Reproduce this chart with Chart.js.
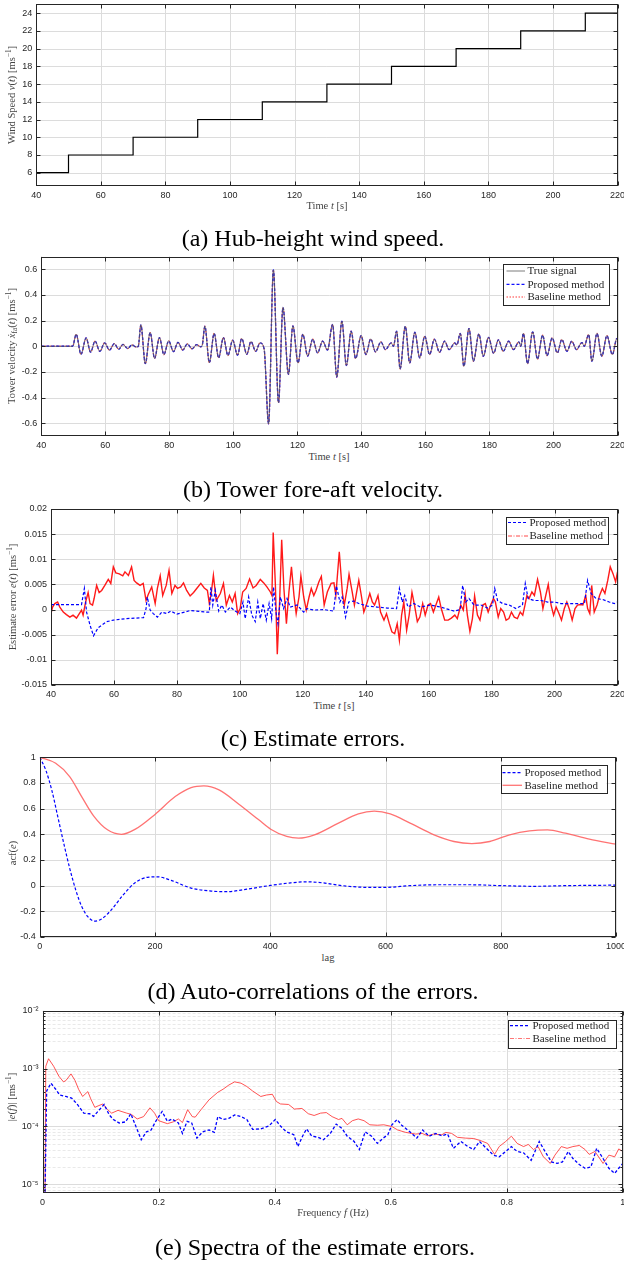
<!DOCTYPE html>
<html>
<head>
<meta charset="utf-8">
<script src="https://cdn.jsdelivr.net/npm/chart.js@4/dist/chart.umd.min.js"></script>
<style>
  body { margin: 0; background: #fff; }
  #page { position: relative; width: 624px; height: 1262px; overflow: hidden; }
  canvas { position: absolute; left: 0; }
  .t { position: absolute; white-space: nowrap; font-family: "Liberation Serif", serif; line-height: 1; transform: translate(-50%, -50%); }
  .ax { font-size: 10.5px; color: #444; }
  .yl { transform: translate(-50%, -50%) rotate(-90deg); }
  .cap { font-size: 24px; color: #000; }
  sup { font-size: 70%; vertical-align: 0.45em; line-height: 0; }
  sub { font-size: 70%; vertical-align: -0.25em; line-height: 0; }
</style>
</head>
<body>
<div id="page">
  <canvas id="cA" width="624" height="200" style="top:0px"></canvas>
  <canvas id="cB" width="624" height="200" style="top:250px"></canvas>
  <canvas id="cC" width="624" height="199" style="top:500px"></canvas>
  <canvas id="cD" width="624" height="201" style="top:750px"></canvas>
  <canvas id="cE" width="624" height="204" style="top:1003px"></canvas>

  <div class="t ax yl" style="left:12px;top:95px">Wind Speed <i>v</i>(<i>t</i>) [ms<sup>−1</sup>]</div>
  <div class="t ax" style="left:327px;top:206px">Time <i>t</i> [s]</div>
  <div class="t cap" style="left:313px;top:238px">(a) Hub-height wind speed.</div>

  <div class="t ax yl" style="left:12px;top:346px">Tower velocity <i>ẋ</i><sub>fa</sub>(<i>t</i>) [ms<sup>−1</sup>]</div>
  <div class="t ax" style="left:329px;top:457px">Time <i>t</i> [s]</div>
  <div class="t cap" style="left:313px;top:489px">(b) Tower fore-aft velocity.</div>

  <div class="t ax yl" style="left:12.5px;top:597px">Estimate error <i>e</i>(<i>t</i>) [ms<sup>−1</sup>]</div>
  <div class="t ax" style="left:334px;top:706px">Time <i>t</i> [s]</div>
  <div class="t cap" style="left:313px;top:738px">(c) Estimate errors.</div>

  <div class="t ax yl" style="left:12.5px;top:853px">acf(<i>e</i>)</div>
  <div class="t ax" style="left:328px;top:958px">lag</div>
  <div class="t cap" style="left:313px;top:991px">(d) Auto-correlations of the errors.</div>

  <div class="t ax yl" style="left:12px;top:1097px">|<i>e</i>(<i>f</i>)| [ms<sup>−1</sup>]</div>
  <div class="t ax" style="left:333px;top:1213px">Frequency <i>f</i> (Hz)</div>
  <div class="t cap" style="left:315px;top:1247px">(e) Spectra of the estimate errors.</div>
</div>

<script>
// ---------- data ----------

// (a) hub-height wind speed steps
const windTime = [40, 50, 70, 90, 110, 130, 150, 170, 190, 210, 220];
const windSpeed = [6, 8, 10, 12, 14, 16, 18, 20, 22, 24, 24];

// tick positions
const timeTicks = [40, 60, 80, 100, 120, 140, 160, 180, 200, 220];
const windTicks = [6, 8, 10, 12, 14, 16, 18, 20, 22, 24];
const velTicks = [-0.6, -0.4, -0.2, 0, 0.2, 0.4, 0.6];
const errTicks = [-0.015, -0.01, -0.005, 0, 0.005, 0.01, 0.015, 0.02];
const lagTicks = [0, 200, 400, 600, 800, 1000];
const acfTicks = [-0.4, -0.2, 0, 0.2, 0.4, 0.6, 0.8, 1];
const freqTicks = [0, 0.2, 0.4, 0.6, 0.8, 1];
const specTicks = [1e-5, 1e-4, 1e-3, 1e-2];
const specTickLabels = ['10⁻⁵', '10⁻⁴', '10⁻³', '10⁻²'];

// (b) tower fore-aft velocity, peaks and troughs [t, v] (all three curves coincide)
const towerVelocity = [
  [40, 0], [49.8, 0], [50.9, 0.094], [52.4, -0.063], [54.0, 0.065], [55.4, -0.046], [56.8, 0.04],
  [58.3, -0.04], [59.8, 0.027], [61.3, -0.03], [62.8, 0.02], [64.2, -0.023], [65.5, 0.015],
  [67.0, -0.018], [68.3, 0.01], [69.7, -0.006], [70.3, 0.0], [71.1, 0.167], [72.5, -0.136],
  [74.0, 0.107], [75.4, -0.095], [76.9, 0.068], [78.3, -0.065], [79.8, 0.042], [81.3, -0.042],
  [82.7, 0.03], [84.2, -0.03], [85.6, 0.018], [87.1, -0.02], [88.5, 0.012], [89.8, -0.004],
  [90.3, 0.01], [91.1, 0.157], [92.5, -0.128], [94.0, 0.1], [95.4, -0.09], [96.9, 0.068],
  [98.3, -0.072], [99.8, 0.047], [101.3, -0.07], [102.6, 0.06], [104.2, -0.063], [105.5, 0.037],
  [107.0, -0.04], [108.3, 0.026], [109.6, -0.02], [111.0, -0.605], [112.5, 0.595], [114.1, -0.44],
  [115.5, 0.303], [117.2, -0.219], [118.6, 0.159], [120.2, -0.13], [121.7, 0.094], [123.2, -0.076],
  [124.8, 0.055], [126.3, -0.052], [127.9, 0.04], [129.4, -0.03], [131.0, 0.17], [132.3, -0.24],
  [133.9, 0.195], [135.3, -0.15], [136.8, 0.117], [138.2, -0.096], [139.9, 0.083], [141.4, -0.065],
  [142.9, 0.057], [144.4, -0.044], [146.1, 0.034], [147.5, -0.026], [149.3, 0.026], [150.0, 0.0],
  [151.0, 0.117], [152.1, -0.177], [153.7, 0.156], [155.1, -0.13], [156.7, 0.109], [158.2, -0.09],
  [159.8, 0.078], [161.3, -0.065], [162.8, 0.055], [164.4, -0.047], [166.0, 0.039], [167.4, -0.026],
  [169.2, 0.026], [169.8, 0.01], [170.9, 0.1], [172.0, -0.156], [173.6, 0.138], [175.0, -0.117],
  [176.7, 0.096], [178.1, -0.078], [179.7, 0.07], [181.3, -0.055], [182.8, 0.049], [184.3, -0.039],
  [186.0, 0.039], [187.5, -0.026], [189.2, 0.034], [189.8, 0.0], [190.6, 0.1], [191.9, -0.135],
  [193.5, 0.112], [195.0, -0.1], [196.6, 0.086], [198.0, -0.073], [199.6, 0.065], [201.2, -0.052],
  [202.6, 0.052], [204.2, -0.039], [205.7, 0.039], [207.2, -0.026], [208.9, 0.029], [209.6, 0.0],
  [211.0, 0.091], [212.0, -0.117], [213.6, 0.1], [215.1, -0.078], [216.7, 0.083], [218.4, -0.065],
  [219.8, 0.06], [220, 0.055]
];

// (c) estimate errors [t, e]
const proposedError = [
  [40, 0.001], [49.7, 0.001], [50.6, 0.0042], [51.3, -0.0005], [52.4, -0.0031], [53.5, -0.0052],
  [55.0, -0.0036], [57.7, -0.0024], [59.8, -0.0021], [64.0, -0.0018], [69.4, -0.0016], [70.2, 0.0002],
  [70.6, 0.0025], [71.5, -0.0001], [72.5, -0.0008], [73.8, -0.0015], [75.2, -0.0005], [76.8, -0.0008],
  [78.0, -0.0003], [80.0, -0.0009], [84.2, -0.0002], [89.5, -0.0005], [90.3, -0.0005], [90.8, 0.0045],
  [91.4, 0.0009], [92.2, 0.0038], [93.3, -0.0003], [94.3, 0.0009], [95.4, -0.0005], [97.0, 0.0005],
  [98.5, -0.0003], [100.0, -0.0008], [101.0, 0.0015], [101.7, -0.0018], [102.8, 0.0025], [103.8, -0.0011],
  [104.9, -0.0024], [105.7, 0.0015], [106.5, -0.0018], [107.4, 0.0012], [108.4, -0.0021], [109.3, 0.0012],
  [110.1, -0.0018], [110.7, 0.0045], [111.6, -0.0011], [112.1, -0.0028], [112.9, 0.0025], [113.9, 0.0002],
  [115.0, 0.0022], [116.0, 0.0005], [118.2, 0.0009], [120.3, -0.0005], [121.3, 0.0002], [123.5, -0.0001],
  [126.7, 0.0], [129.8, -0.0003], [130.7, 0.0047], [131.8, 0.0015], [132.5, 0.0025], [133.6, -0.0015],
  [134.6, 0.0015], [136.2, 0.0017], [137.8, 0.0012], [140.5, 0.0007], [143.6, 0.0005], [146.8, 0.0003],
  [149.8, 0.0002], [150.7, 0.0042], [151.6, 0.0015], [152.4, 0.0028], [153.4, 0.0005], [155.3, 0.0012],
  [157.4, 0.0005], [160.6, 0.0009], [163.8, 0.0005], [168.1, -0.0003], [170.0, 0.0], [170.8, 0.0048],
  [171.8, 0.0015], [172.8, 0.0022], [174.4, 0.0009], [176.6, 0.0009], [178.7, 0.0003], [180.3, 0.0009],
  [181.0, 0.0042], [181.9, 0.0018], [183.5, 0.0012], [185.6, 0.0009], [187.7, 0.0002], [189.8, 0.0009],
  [190.7, 0.0052], [191.6, 0.0022], [193.5, 0.0018], [195.7, 0.0018], [197.8, 0.0015], [199.9, 0.0015],
  [202.0, 0.0012], [205.2, 0.0012], [209.5, 0.0012], [210.5, 0.0058], [211.6, 0.0032], [213.2, 0.0022],
  [215.3, 0.002], [217.4, 0.0015], [219.0, 0.0012], [220, 0.0015]
];
const baselineError = [
  [40, -0.0008], [40.5, 0.0005], [41.2, 0.0012], [42.1, 0.0015], [42.8, 0.0005], [43.9, -0.0005],
  [44.9, -0.001], [46.0, -0.0015], [47.0, -0.0011], [48.1, -0.0017], [49.0, -0.0008], [49.7, -0.0001],
  [50.2, -0.0011], [51.0, 0.0015], [51.8, 0.0034], [52.4, 0.0012], [53.2, 0.0009], [53.7, 0.0022],
  [54.5, 0.0048], [55.3, 0.0034], [56.1, 0.0038], [57.1, 0.0048], [58.2, 0.006], [59.0, 0.0052],
  [59.8, 0.0085], [60.6, 0.0073], [61.7, 0.0071], [62.8, 0.0067], [63.5, 0.0075], [64.6, 0.0068],
  [65.6, 0.0085], [66.4, 0.0058], [67.2, 0.0053], [68.3, 0.0048], [69.3, 0.0052], [70.2, 0.0018],
  [70.9, 0.003], [72.0, 0.0045], [73.1, 0.0012], [73.8, 0.0042], [74.7, 0.0067], [75.5, 0.0028],
  [76.6, 0.0048], [77.5, 0.0078], [78.4, 0.0032], [79.4, 0.0048], [80.2, 0.0042], [81.2, 0.0045],
  [82.1, 0.0053], [83.1, 0.0038], [84.2, 0.0027], [85.3, 0.0034], [86.3, 0.0042], [87.6, 0.0052],
  [88.7, 0.0043], [89.7, 0.0038], [90.3, 0.0012], [90.9, 0.0032], [91.6, 0.0068], [92.5, 0.0018],
  [93.8, 0.0032], [94.8, 0.0052], [95.7, 0.0009], [96.7, 0.0028], [97.6, 0.0015], [98.5, 0.0032],
  [99.3, -0.0008], [100.1, 0.0002], [100.9, 0.0035], [102.0, 0.0042], [103.1, 0.0061], [104.2, 0.0043],
  [105.2, 0.0048], [106.5, 0.006], [107.6, 0.0053], [108.6, 0.0045], [109.7, 0.0035], [110.2, 0.0028],
  [110.6, 0.0153], [111.3, 0.0048], [111.9, -0.0089], [112.6, 0.0009], [113.3, 0.0139], [114.0, 0.0042],
  [114.8, -0.0028], [115.6, 0.0035], [116.4, 0.0085], [117.2, 0.0028], [117.9, -0.0008], [118.8, 0.0025],
  [119.4, 0.0067], [120.3, 0.0025], [121.1, -0.0001], [122.0, 0.0025], [122.7, 0.0042], [123.5, 0.0028],
  [124.2, 0.0038], [125.1, 0.0055], [125.9, 0.0066], [126.8, 0.0009], [127.8, 0.0035], [129.0, 0.0052],
  [129.9, 0.0053], [130.5, 0.0028], [131.6, 0.0115], [132.6, 0.0032], [133.2, 0.0009], [134.1, 0.0042],
  [134.7, 0.007], [135.7, 0.0035], [136.4, 0.0009], [137.1, 0.0034], [137.8, 0.0058], [138.6, 0.0028],
  [139.4, -0.0005], [140.5, 0.0015], [141.3, 0.0032], [142.1, 0.0015], [142.8, 0.0009], [143.9, 0.0028],
  [144.7, -0.0005], [145.8, -0.0021], [146.6, -0.0008], [147.5, -0.0028], [148.3, -0.0044], [149.2, -0.0048],
  [150.0, -0.0028], [150.7, -0.0061], [151.4, -0.0011], [152.1, 0.0015], [153.0, -0.0041], [153.8, -0.0011],
  [154.7, 0.0034], [155.5, 0.0009], [156.4, -0.0024], [157.2, -0.0015], [158.1, 0.0012], [158.9, -0.0011],
  [159.8, 0.0009], [160.6, 0.0012], [161.5, -0.0005], [162.3, 0.0009], [163.2, 0.0025], [164.0, 0.0002],
  [165.1, -0.0021], [166.2, -0.0021], [167.2, -0.0017], [168.3, -0.0011], [169.1, -0.0018], [170.2, 0.0009],
  [171.0, -0.0001], [171.6, 0.003], [172.3, -0.0011], [173.1, -0.0043], [173.9, -0.0018], [174.6, 0.0027],
  [175.5, -0.0011], [176.3, -0.0021], [177.2, 0.0009], [178.0, 0.0012], [178.9, -0.0005], [179.7, 0.0009],
  [180.6, 0.0022], [181.2, 0.0015], [182.1, -0.0015], [182.9, 0.0002], [183.8, -0.0005], [184.6, -0.0021],
  [185.5, -0.0018], [186.3, -0.0005], [187.2, -0.0015], [188.2, -0.0018], [189.1, -0.0005], [189.9, -0.0011],
  [190.6, 0.0009], [191.2, 0.0028], [191.9, 0.0022], [192.8, 0.0035], [193.6, 0.0028], [194.6, 0.006],
  [195.5, 0.0035], [196.3, 0.0002], [197.2, 0.0028], [198.0, 0.005], [198.9, 0.0009], [199.7, -0.0011],
  [200.5, 0.0005], [201.4, -0.0008], [202.2, -0.0021], [203.1, 0.0002], [203.9, 0.0015], [204.8, -0.0001],
  [205.6, -0.0021], [206.5, 0.0002], [207.3, 0.0009], [208.2, 0.001], [209.0, 0.0009], [209.9, 0.0028],
  [210.5, 0.0002], [211.2, -0.0008], [211.8, 0.0048], [212.6, -0.0005], [213.5, 0.0009], [214.3, 0.0028],
  [215.2, 0.0042], [216.0, 0.0032], [216.9, 0.0058], [217.7, 0.0085], [218.6, 0.0071], [219.4, 0.0055],
  [220, 0.0075]
];

// (d) auto-correlations [lag, acf]
const proposedAcf = [
  [0, 1.0], [10.4, 0.9], [20.7, 0.746], [31.1, 0.54], [41.5, 0.331], [51.8, 0.137], [62.2, -0.031],
  [72.6, -0.161], [82.9, -0.239], [94.7, -0.276], [107.1, -0.26], [124.4, -0.187], [145.1, -0.07],
  [165.9, 0.025], [186.6, 0.065], [203.9, 0.069], [228.1, 0.041], [262.6, -0.019], [297.2, -0.042],
  [324.8, -0.047], [359.4, -0.027], [400.8, 0.002], [435.4, 0.022], [463, 0.03], [490.7, 0.022],
  [525.2, 0.0], [566.7, -0.013], [601.2, -0.013], [642.7, 0.0], [691.1, 0.007], [746.4, 0.007],
  [801.7, 0.0], [857, -0.005], [912.2, 0.0], [1000, 0.004]
];
const baselineAcf = [
  [0, 1.0], [27.6, 0.953], [51.8, 0.85], [72.6, 0.694], [93.3, 0.544], [117.5, 0.435], [141.7, 0.4],
  [165.9, 0.44], [200.4, 0.557], [235, 0.694], [262.6, 0.764], [284.7, 0.777], [311, 0.746],
  [345.5, 0.635], [380, 0.513], [400.8, 0.44], [428.5, 0.383], [449.2, 0.37], [476.8, 0.396],
  [518.3, 0.487], [552.9, 0.559], [580.5, 0.58], [608.2, 0.559], [642.7, 0.487], [684.2, 0.396],
  [718.7, 0.344], [749.8, 0.328], [780.9, 0.344], [815.5, 0.396], [850, 0.427], [881.1, 0.435],
  [912.2, 0.409], [953.7, 0.362], [1000, 0.323]
];

// (e) error spectra [f, |e(f)|]
const proposedSpectrum = [
  [0.004, 5e-6], [0.007, 4.1e-4], [0.0144, 5.6e-4], [0.0226, 4.4e-4], [0.0295, 3.5e-4], [0.04, 3.3e-4],
  [0.05, 3.1e-4], [0.06, 2.4e-4], [0.071, 1.7e-4], [0.081, 1.66e-4], [0.088, 1.5e-4], [0.098, 1.95e-4],
  [0.106, 2.4e-4], [0.115, 1.58e-4], [0.122, 1.32e-4], [0.132, 1.15e-4], [0.143, 1.2e-4], [0.152, 1.66e-4],
  [0.16, 1.05e-4], [0.17, 5.9e-5], [0.179, 8.1e-5], [0.187, 8.7e-5], [0.195, 1.23e-4], [0.206, 1.82e-4],
  [0.215, 1.23e-4], [0.223, 1.35e-4], [0.234, 1.15e-4], [0.241, 7.6e-5], [0.249, 1.23e-4], [0.257, 1.15e-4],
  [0.266, 6.3e-5], [0.276, 8.1e-5], [0.287, 8.7e-5], [0.296, 7.9e-5], [0.302, 1.48e-4], [0.311, 1.32e-4],
  [0.321, 1.38e-4], [0.331, 1.58e-4], [0.342, 1.48e-4], [0.352, 1.32e-4], [0.362, 8.9e-5], [0.376, 9.1e-5],
  [0.39, 1.02e-4], [0.401, 1.32e-4], [0.41, 1.02e-4], [0.42, 8.1e-5], [0.433, 7.2e-5], [0.44, 4.5e-5],
  [0.448, 6.8e-5], [0.455, 9.1e-5], [0.464, 6.8e-5], [0.475, 6.5e-5], [0.484, 5.9e-5], [0.496, 7.6e-5],
  [0.506, 1.1e-4], [0.516, 9.3e-5], [0.525, 6.8e-5], [0.537, 5.5e-5], [0.546, 4.0e-5], [0.556, 8.1e-5],
  [0.567, 6.8e-5], [0.577, 5.1e-5], [0.587, 6.3e-5], [0.595, 7.2e-5], [0.602, 1.07e-4], [0.611, 1.32e-4],
  [0.619, 1.05e-4], [0.633, 8.1e-5], [0.645, 6.3e-5], [0.655, 8.7e-5], [0.666, 6.8e-5], [0.678, 7.6e-5],
  [0.688, 6.9e-5], [0.698, 7.4e-5], [0.708, 4.2e-5], [0.721, 5.5e-5], [0.733, 4.5e-5], [0.743, 4.0e-5],
  [0.753, 5.5e-5], [0.767, 4.0e-5], [0.777, 3.2e-5], [0.787, 3.0e-5], [0.798, 3.7e-5], [0.808, 4.5e-5],
  [0.818, 3.7e-5], [0.829, 3.5e-5], [0.842, 2.6e-5], [0.856, 5.5e-5], [0.866, 3.7e-5], [0.877, 2.45e-5],
  [0.887, 2.3e-5], [0.896, 2.45e-5], [0.906, 3.7e-5], [0.914, 2.8e-5], [0.925, 2.2e-5], [0.935, 1.9e-5],
  [0.945, 2.0e-5], [0.955, 4.2e-5], [0.966, 2.8e-5], [0.976, 1.9e-5], [0.986, 1.55e-5], [0.993, 1.9e-5],
  [1.0, 2.3e-5]
];
const baselineSpectrum = [
  [0.004, 5e-6], [0.0055, 1.1e-3], [0.0103, 1.48e-3], [0.019, 1.1e-3], [0.028, 7.4e-4], [0.036, 5.9e-4],
  [0.04, 6.2e-4], [0.049, 8.1e-4], [0.056, 6.2e-4], [0.062, 4.4e-4], [0.069, 3.3e-4], [0.078, 4.0e-4],
  [0.083, 3.0e-4], [0.09, 2.14e-4], [0.097, 2.3e-4], [0.104, 2.45e-4], [0.112, 1.95e-4], [0.119, 1.7e-4],
  [0.13, 1.9e-4], [0.145, 1.7e-4], [0.153, 1.62e-4], [0.163, 1.35e-4], [0.174, 1.48e-4], [0.185, 2.1e-4],
  [0.193, 1.7e-4], [0.2, 1.26e-4], [0.215, 1.12e-4], [0.225, 1.2e-4], [0.234, 1.35e-4], [0.241, 1.17e-4],
  [0.25, 1.95e-4], [0.258, 1.48e-4], [0.263, 1.45e-4], [0.273, 1.95e-4], [0.287, 2.9e-4], [0.302, 3.9e-4],
  [0.311, 4.4e-4], [0.321, 5.2e-4], [0.331, 5.9e-4], [0.342, 5.6e-4], [0.352, 4.9e-4], [0.362, 4.1e-4],
  [0.376, 3.3e-4], [0.386, 3.5e-4], [0.396, 3.6e-4], [0.403, 2.7e-4], [0.41, 2.45e-4], [0.424, 2.4e-4],
  [0.434, 2.0e-4], [0.447, 2.05e-4], [0.458, 1.66e-4], [0.468, 1.55e-4], [0.479, 1.7e-4], [0.489, 1.74e-4],
  [0.499, 1.48e-4], [0.51, 1.32e-4], [0.516, 1.38e-4], [0.525, 1.07e-4], [0.534, 1.26e-4], [0.544, 1.35e-4],
  [0.554, 1.26e-4], [0.564, 1.07e-4], [0.577, 1.05e-4], [0.588, 1.07e-4], [0.602, 1.0e-4], [0.612, 8.7e-5],
  [0.626, 7.9e-5], [0.643, 7.4e-5], [0.654, 7.6e-5], [0.664, 6.9e-5], [0.674, 7.4e-5], [0.688, 7.2e-5],
  [0.695, 7.9e-5], [0.705, 7.6e-5], [0.715, 6.5e-5], [0.729, 6.3e-5], [0.743, 6.2e-5], [0.757, 5.6e-5],
  [0.767, 5.1e-5], [0.779, 3.3e-5], [0.787, 4.5e-5], [0.798, 5.5e-5], [0.808, 6.8e-5], [0.818, 5.1e-5],
  [0.829, 4.5e-5], [0.837, 4.9e-5], [0.846, 4.0e-5], [0.854, 4.5e-5], [0.863, 3.0e-5], [0.875, 2.3e-5],
  [0.883, 3.2e-5], [0.894, 4.5e-5], [0.904, 4.2e-5], [0.914, 4.5e-5], [0.925, 4.7e-5], [0.935, 4.0e-5],
  [0.942, 3.3e-5], [0.952, 3.7e-5], [0.966, 2.3e-5], [0.976, 3.2e-5], [0.986, 3.0e-5], [0.993, 4.1e-5],
  [1.0, 3.7e-5]
];

// ---------- styling helpers ----------

Chart.defaults.font.family = '"Liberation Sans", Arial, sans-serif';
Chart.defaults.font.size = 9;
Chart.defaults.color = '#262626';

// minor decade lines for the log axis (grid only)
const specMinor = [];
for (let e = -6; e <= -3; e++) {
  for (let m = 2; m <= 9; m++) {
    const v = m * Math.pow(10, e);
    if (v > 7.1e-6 && v < 1e-2) specMinor.push(v);
  }
}

// per-canvas decoration: canvas top on the page, legend box in page coordinates
const decor = {
  cA: { top: 0 },
  cB: { top: 250, legend: { x: 503, y: 264, w: 106, h: 41, rows: [271, 284.3, 297], s0: 506.5, s1: 525, tx: 527.5 } },
  cC: { top: 500, legend: { x: 505.5, y: 516.5, w: 101.5, h: 27, rows: [522.5, 536], s0: 508, s1: 528, tx: 529.5 } },
  cD: { top: 750, legend: { x: 500.5, y: 765, w: 106, h: 28, rows: [772.7, 785.3], s0: 502.5, s1: 522, tx: 524.5 } },
  cE: { top: 1003, minorY: specMinor, legend: { x: 508, y: 1019.5, w: 108, h: 27.5, rows: [1025.7, 1038.5], s0: 510, s1: 530, tx: 532.5 } }
};

function hLine(ctx, a, py) {
  ctx.beginPath(); ctx.moveTo(a.left, py); ctx.lineTo(a.right, py); ctx.stroke();
}
function vLine(ctx, a, px) {
  ctx.beginPath(); ctx.moveTo(px, a.top); ctx.lineTo(px, a.bottom); ctx.stroke();
}

// MATLAB-like axes: grid behind, box + inward ticks + boxed legend on top
const matlabAxes = {
  id: 'matlabAxes',
  beforeDatasetsDraw(chart) {
    const d = decor[chart.canvas.id];
    const { ctx, chartArea: a } = chart;
    const sx = chart.scales.x, sy = chart.scales.y;
    ctx.save();
    ctx.lineWidth = 1;
    if (d.minorY) {
      ctx.strokeStyle = '#e9e9e9';
      ctx.setLineDash([3, 2]);
      d.minorY.forEach(v => hLine(ctx, a, Math.round(sy.getPixelForValue(v)) + 0.5));
      ctx.setLineDash([]);
    }
    ctx.strokeStyle = '#dcdcdc';
    sx.ticks.forEach(t => vLine(ctx, a, Math.round(sx.getPixelForValue(t.value)) + 0.5));
    sy.ticks.forEach(t => hLine(ctx, a, Math.round(sy.getPixelForValue(t.value)) + 0.5));
    ctx.restore();
  },
  afterDatasetsDraw(chart) {
    const d = decor[chart.canvas.id];
    const { ctx, chartArea: a } = chart;
    const sx = chart.scales.x, sy = chart.scales.y;
    const L = Math.round(a.left) + 0.5, R = Math.round(a.right) - 0.5;
    const T = Math.round(a.top) + 0.5, B = Math.round(a.bottom) - 0.5;
    ctx.save();
    ctx.strokeStyle = '#262626';
    ctx.lineWidth = 1;
    ctx.strokeRect(L, T, R - L, B - T);
    ctx.beginPath();
    sx.ticks.forEach(t => {
      const px = Math.round(sx.getPixelForValue(t.value)) + 0.5;
      ctx.moveTo(px, B); ctx.lineTo(px, B - 4);
      ctx.moveTo(px, T); ctx.lineTo(px, T + 4);
    });
    sy.ticks.forEach(t => {
      const py = Math.round(sy.getPixelForValue(t.value)) + 0.5;
      ctx.moveTo(L, py); ctx.lineTo(L + 4, py);
      ctx.moveTo(R, py); ctx.lineTo(R - 4, py);
    });
    if (d.minorY) {
      d.minorY.forEach(v => {
        const py = Math.round(sy.getPixelForValue(v)) + 0.5;
        ctx.moveTo(L, py); ctx.lineTo(L + 2, py);
        ctx.moveTo(R, py); ctx.lineTo(R - 2, py);
      });
    }
    ctx.stroke();

    if (d.legend) {
      const g = d.legend, oy = d.top;
      ctx.fillStyle = '#fff';
      ctx.fillRect(g.x, g.y - oy, g.w, g.h);
      ctx.strokeStyle = '#262626';
      ctx.lineWidth = 1;
      ctx.strokeRect(Math.round(g.x) + 0.5, Math.round(g.y - oy) + 0.5, Math.round(g.w), Math.round(g.h));
      ctx.font = '11px "Liberation Serif", serif';
      ctx.textBaseline = 'middle';
      chart.data.datasets.forEach((ds, i) => {
        const ry = g.rows[i] - oy;
        ctx.strokeStyle = ds.legendColor || ds.borderColor;
        ctx.lineWidth = ds.legendWidth || ds.borderWidth;
        ctx.setLineDash(ds.legendDash || ds.borderDash || []);
        ctx.beginPath(); ctx.moveTo(g.s0, ry); ctx.lineTo(g.s1, ry); ctx.stroke();
        ctx.setLineDash([]);
        ctx.fillStyle = '#262626';
        ctx.fillText(ds.label, g.tx, ry + 0.5);
      });
    }
    ctx.restore();
  }
};

function pts(pairs) {
  return pairs.map(p => ({ x: p[0], y: p[1] }));
}

function xAxis(min, max, ticks) {
  return {
    type: 'linear', min, max, bounds: 'data',
    grid: { display: false, drawTicks: false }, border: { display: false },
    ticks: { padding: 4, maxRotation: 0, autoSkip: false, callback: v => String(v) },
    afterBuildTicks: s => { s.ticks = ticks.map(v => ({ value: v })); },
    afterFit: s => { s.height = 14; s.paddingLeft = 0; s.paddingRight = 0; }
  };
}

function yAxis(type, min, max, ticks, width, labels) {
  return {
    type, min, max, bounds: 'data',
    grid: { display: false, drawTicks: false }, border: { display: false },
    ticks: {
      padding: 4, autoSkip: false,
      callback: v => labels ? labels[ticks.indexOf(v)] : String(v)
    },
    afterBuildTicks: s => { s.ticks = ticks.map(v => ({ value: v })); },
    afterFit: s => { s.width = width; s.paddingTop = 0; s.paddingBottom = 0; }
  };
}

function makeChart(id, padTop, padRight, datasets, x, y) {
  return new Chart(document.getElementById(id), {
    type: 'line',
    data: { datasets },
    options: {
      responsive: false,
      animation: false,
      layout: { padding: { top: padTop, right: padRight, left: 0, bottom: 0 } },
      elements: { point: { radius: 0 } },
      scales: { x, y },
      plugins: { legend: { display: false }, tooltip: { enabled: false } }
    },
    plugins: [matlabAxes]
  });
}

// ---------- charts ----------

// (a) wind speed
makeChart('cA', 4.3, 6.4, [{
  label: 'Wind speed',
  data: windTime.map((t, i) => ({ x: t, y: windSpeed[i] })),
  stepped: 'before',
  borderColor: '#000', borderWidth: 1.2
}], xAxis(40, 220, timeTicks), yAxis('linear', 4.5, 25, windTicks, 36.2));

// (b) tower velocity
makeChart('cB', 6.5, 6.5, [
  { label: 'True signal', data: pts(towerVelocity), borderColor: '#5a5a5a', borderWidth: 0.8,
    cubicInterpolationMode: 'monotone' },
  { label: 'Proposed method', data: pts(towerVelocity), borderColor: '#1010ff', borderWidth: 1.3,
    borderDash: [3, 2], cubicInterpolationMode: 'monotone' },
  { label: 'Baseline method', data: pts(towerVelocity), borderColor: 'rgba(255,50,50,0.85)', borderWidth: 1.3,
    borderDash: [1.5, 1.5], cubicInterpolationMode: 'monotone', legendColor: 'rgba(255,90,90,0.8)' }
], xAxis(40, 220, timeTicks), yAxis('linear', -0.7, 0.7, velTicks, 41.3));

// (c) estimate errors
makeChart('cC', 9, 6.5, [
  { label: 'Proposed method', data: pts(proposedError), borderColor: '#0000ff', borderWidth: 1.2,
    borderDash: [3, 2] },
  { label: 'Baseline method', data: pts(baselineError), borderColor: 'rgba(255,0,0,0.9)', borderWidth: 1.4,
    legendDash: [4, 1.5, 1, 1.5], legendWidth: 0.8 }
], xAxis(40, 220, timeTicks), yAxis('linear', -0.015, 0.02, errTicks, 51));

// (d) auto-correlations
makeChart('cD', 7.3, 8, [
  { label: 'Proposed method', data: pts(proposedAcf), borderColor: '#0000ff', borderWidth: 1.2,
    borderDash: [3, 2], cubicInterpolationMode: 'monotone' },
  { label: 'Baseline method', data: pts(baselineAcf), borderColor: 'rgba(255,90,90,0.85)', borderWidth: 1.3,
    cubicInterpolationMode: 'monotone' }
], xAxis(0, 1000, lagTicks), yAxis('linear', -0.4, 1, acfTicks, 39.8));

// (e) spectra
makeChart('cE', 7.7, 1.2, [
  { label: 'Proposed method', data: pts(proposedSpectrum), borderColor: '#0000ff', borderWidth: 1.3,
    borderDash: [3, 2] },
  { label: 'Baseline method', data: pts(baselineSpectrum), borderColor: 'rgba(255,40,40,0.8)', borderWidth: 1,
    legendDash: [4, 1.5, 1, 1.5], legendWidth: 0.8 }
], xAxis(0, 1, freqTicks), yAxis('logarithmic', 7.1e-6, 1e-2, specTicks, 42.6, specTickLabels));
</script>
</body>
</html>
